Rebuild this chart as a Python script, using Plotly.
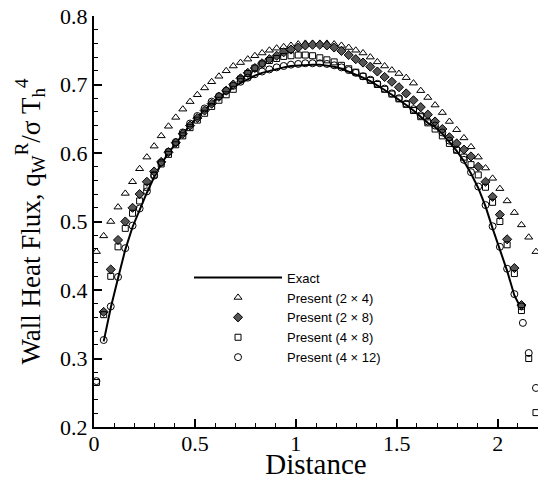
import plotly.graph_objects as go

# Shared distance grid
DISTANCE = [0.012, 0.048, 0.083, 0.119, 0.155, 0.191, 0.226, 0.262, 0.298, 0.333,
            0.369, 0.405, 0.440, 0.476, 0.512, 0.548, 0.583, 0.619, 0.655, 0.690,
            0.726, 0.762, 0.797, 0.833, 0.869, 0.905, 0.940, 0.976, 1.012, 1.047,
            1.083, 1.119, 1.154, 1.190, 1.226, 1.262, 1.297, 1.333, 1.369, 1.404,
            1.440, 1.476, 1.511, 1.547, 1.583, 1.619, 1.654, 1.690, 1.726, 1.761,
            1.797, 1.833, 1.868, 1.904, 1.940, 1.975, 2.011, 2.047, 2.083, 2.118,
            2.154, 2.190]

EXACT = [None, 0.325, 0.374, 0.417, 0.459, 0.492, 0.517, 0.542, 0.565, 0.584,
         0.600, 0.614, 0.628, 0.641, 0.652, 0.663, 0.673, 0.681, 0.689, 0.696,
         0.702, 0.708, 0.713, 0.717, 0.720, 0.723, 0.725, 0.727, 0.728, 0.729,
         0.729, 0.729, 0.728, 0.726, 0.723, 0.719, 0.715, 0.710, 0.705, 0.699,
         0.692, 0.685, 0.678, 0.670, 0.662, 0.653, 0.644, 0.638, 0.628, 0.616,
         0.603, 0.588, 0.570, 0.549, 0.522, 0.490, 0.460, 0.428, 0.392, 0.372,
         None, None]

P_2x4 = [0.456, 0.479, 0.500, 0.521, 0.541, 0.558, 0.577, 0.594, 0.610, 0.625,
         0.639, 0.652, 0.664, 0.675, 0.685, 0.695, 0.704, 0.712, 0.720, 0.727,
         0.732, 0.737, 0.742, 0.746, 0.750, 0.753, 0.755, 0.757, 0.759, 0.760,
         0.760, 0.760, 0.760, 0.759, 0.757, 0.754, 0.750, 0.746, 0.740, 0.733,
         0.727, 0.721, 0.716, 0.710, 0.702, 0.691, 0.681, 0.670, 0.659, 0.646,
         0.634, 0.622, 0.609, 0.594, 0.578, 0.563, 0.548, 0.530, 0.513, 0.495,
         0.477, 0.456]

P_2x8 = [None, 0.368, 0.430, 0.473, 0.500, 0.520, 0.540, 0.558, 0.573, 0.587,
         0.601, 0.615, 0.628, 0.640, 0.651, 0.662, 0.672, 0.682, 0.691, 0.700,
         0.709, 0.717, 0.724, 0.731, 0.737, 0.742, 0.747, 0.751, 0.754, 0.757,
         0.758, 0.758, 0.757, 0.754, 0.749, 0.743, 0.737, 0.732, 0.726, 0.719,
         0.711, 0.704, 0.696, 0.687, 0.677, 0.667, 0.656, 0.646, 0.635, 0.623,
         0.614, 0.605, 0.595, 0.580, 0.558, 0.536, 0.510, 0.474, 0.432, 0.378,
         None, None]

P_4x8 = [0.265, 0.364, 0.420, 0.463, 0.490, 0.512, 0.530, 0.550, 0.568, 0.584,
         0.598, 0.612, 0.625, 0.637, 0.648, 0.658, 0.668, 0.677, 0.685, 0.693,
         0.708, 0.716, 0.724, 0.730, 0.735, 0.738, 0.741, 0.742, 0.743, 0.743,
         0.742, 0.739, 0.736, 0.733, 0.728, 0.723, 0.718, 0.712, 0.706, 0.700,
         0.693, 0.686, 0.679, 0.671, 0.662, 0.653, 0.644, 0.635, 0.625, 0.614,
         0.604, 0.594, 0.583, 0.568, 0.550, 0.528, 0.500, 0.466, 0.424, 0.370,
         0.300, 0.221]

P_4x12 = [0.267, 0.327, 0.376, 0.419, 0.461, 0.494, 0.519, 0.544, 0.567, 0.586,
          0.602, 0.616, 0.630, 0.643, 0.654, 0.665, 0.675, 0.683, 0.691, 0.698,
          0.704, 0.710, 0.715, 0.719, 0.722, 0.725, 0.727, 0.729, 0.730, 0.731,
          0.731, 0.731, 0.730, 0.728, 0.725, 0.721, 0.717, 0.712, 0.707, 0.701,
          0.694, 0.687, 0.680, 0.672, 0.664, 0.655, 0.646, 0.640, 0.630, 0.618,
          0.605, 0.590, 0.572, 0.551, 0.524, 0.493, 0.463, 0.431, 0.394, 0.376,
          0.308, 0.257]
P_4x12_EXTRA_X = [2.125]
P_4x12_EXTRA_Y = [0.352]

X_TICKS = [0, 0.5, 1, 1.5, 2]
X_TICK_LABELS = ["0", "0.5", "1", "1.5", "2"]
Y_TICKS = [0.2, 0.3, 0.4, 0.5, 0.6, 0.7, 0.8]
Y_TICK_LABELS = ["0.2", "0.3", "0.4", "0.5", "0.6", "0.7", "0.8"]
X_RANGE = [0, 2.2]
Y_RANGE = [0.2, 0.8]

fig = go.Figure()

fig.add_trace(go.Scatter(x=DISTANCE, y=EXACT, mode="lines", name="Exact",
                         line=dict(color="black", width=2)))
fig.add_trace(go.Scatter(x=DISTANCE, y=P_2x4, mode="markers", name="Present (2 \u00d7 4)",
                         marker=dict(symbol="triangle-up-open", size=7, color="black",
                                     line=dict(width=1))))
fig.add_trace(go.Scatter(x=DISTANCE, y=P_2x8, mode="markers", name="Present (2 \u00d7 8)",
                         marker=dict(symbol="diamond", size=7, color="#555555",
                                     line=dict(width=1, color="black"))))
fig.add_trace(go.Scatter(x=DISTANCE, y=P_4x8, mode="markers", name="Present (4 \u00d7 8)",
                         marker=dict(symbol="square-open", size=6, color="black",
                                     line=dict(width=1))))
fig.add_trace(go.Scatter(x=DISTANCE + P_4x12_EXTRA_X, y=P_4x12 + P_4x12_EXTRA_Y,
                         mode="markers", name="Present (4 \u00d7 12)",
                         marker=dict(symbol="circle-open", size=7, color="black",
                                     line=dict(width=1))))

tick_common = dict(
    showline=True, linecolor="black", linewidth=2,
    ticks="inside", ticklen=8, tickwidth=1.5, tickcolor="black",
    showgrid=False, zeroline=False,
)
label_font = dict(family="Liberation Serif", size=22, color="black")

fig.update_layout(
    xaxis=dict(range=X_RANGE, tickvals=X_TICKS, ticktext=X_TICK_LABELS,
               minor=dict(dtick=0.1, ticks="inside", ticklen=4, tickwidth=1, tickcolor="black"),
               title=dict(text="Distance", standoff=3,
                          font=dict(family="Liberation Serif", size=29, color="black")),
               ticklabelstandoff=-4, tickfont=label_font,
               **tick_common),
    yaxis=dict(range=Y_RANGE, tickvals=Y_TICKS, ticktext=Y_TICK_LABELS,
               minor=dict(dtick=0.02, ticks="inside", ticklen=4, tickwidth=1, tickcolor="black"),
               title=dict(text="Wall Heat Flux, q<sub>W</sub><sup>R</sup>/\u03c3 T<sub>h</sub><sup>4</sup>",
                          standoff=12,
                          font=dict(family="Liberation Serif", size=27, color="black")),
               tickfont=label_font,
               **tick_common),
    xaxis2=dict(range=X_RANGE, overlaying="x", side="top", matches="x",
                tickvals=X_TICKS, showticklabels=False,
                minor=dict(dtick=0.1, ticks="inside", ticklen=4, tickwidth=1, tickcolor="black"),
                **tick_common),
    yaxis2=dict(range=Y_RANGE, overlaying="y", side="right", matches="y",
                tickvals=Y_TICKS, showticklabels=False,
                minor=dict(dtick=0.02, ticks="inside", ticklen=4, tickwidth=1, tickcolor="black"),
                **tick_common),
    width=539, height=480,
    margin=dict(l=94, r=1, t=16, b=53, autoexpand=False),
    plot_bgcolor="white", paper_bgcolor="white",
    showlegend=True,
    legend=dict(x=0.214, y=0.40, xanchor="left", yanchor="top",
                bgcolor="rgba(0,0,0,0)", borderwidth=0, itemwidth=88,
                font=dict(family="Liberation Sans", size=13, color="black"),
                tracegroupgap=0),
)

fig.write_html("out.html", config={"displayModeBar": False},
               post_script="document.body.style.margin='0';")
